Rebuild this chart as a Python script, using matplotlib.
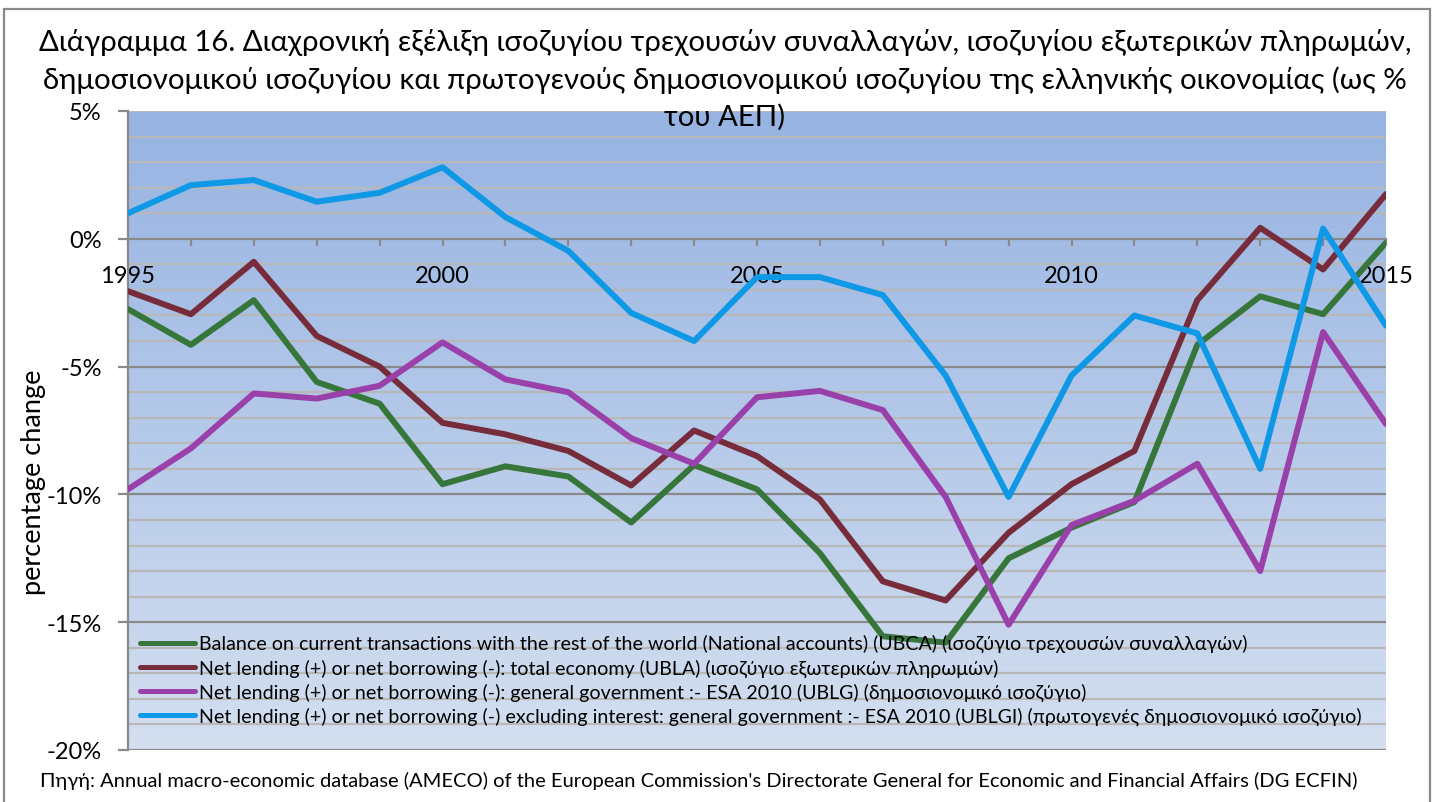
import numpy as np
import matplotlib
matplotlib.use("Agg")
import matplotlib.pyplot as plt
from matplotlib.colors import LinearSegmentedColormap
from matplotlib.patches import Rectangle

plt.rcParams['font.family'] = ['Lato', 'DejaVu Sans']

# Années
annees = list(range(1995, 2016))

# Séries (en % du PIB)
ubca = [-2.75, -4.15, -2.4, -5.6, -6.45, -9.6, -8.9, -9.3, -11.1, -8.85, -9.8,
        -12.3, -15.55, -15.8, -12.5, -11.3, -10.3, -4.15, -2.25, -2.95, -0.15]
ubla = [-2.05, -2.95, -0.9, -3.8, -5.0, -7.2, -7.65, -8.3, -9.65, -7.5, -8.5,
        -10.2, -13.4, -14.15, -11.5, -9.6, -8.3, -2.4, 0.43, -1.2, 1.75]
ublg = [-9.8, -8.2, -6.05, -6.25, -5.75, -4.05, -5.5, -6.0, -7.8, -8.8, -6.2,
        -5.95, -6.7, -10.1, -15.1, -11.2, -10.25, -8.8, -13.0, -3.65, -7.25]
ublgi = [1.0, 2.1, 2.3, 1.45, 1.8, 2.8, 0.85, -0.47, -2.9, -4.0, -1.5,
         -1.5, -2.2, -5.35, -10.1, -5.35, -3.0, -3.7, -9.0, 0.4, -3.4]

series = [ubca, ubla, ublg, ublgi]
noms = [
    "Balance on current transactions with the rest of the world (National accounts) (UBCA) (ισοζύγιο τρεχουσών συναλλαγών)",
    "Net lending (+) or net borrowing (-): total economy (UBLA) (ισοζύγιο εξωτερικών πληρωμών)",
    "Net lending (+) or net borrowing (-): general government :- ESA 2010 (UBLG) (δημοσιονομικό ισοζύγιο)",
    "Net lending (+) or net borrowing (-) excluding interest: general government :- ESA 2010 (UBLGI) (πρωτογενές δημοσιονομικό ισοζύγιο)",
]
couleurs = ['#37763a', '#772c3c', '#9a40aa', '#0f98e6']

y_ticks = [-20, -15, -10, -5, 0, 5]
x_labels = [1995, 2000, 2005, 2010, 2015]

lignes_titre = [
    "Διάγραμμα 16. Διαχρονική εξέλιξη ισοζυγίου τρεχουσών συναλλαγών, ισοζυγίου εξωτερικών πληρωμών,",
    "δημοσιονομικού ισοζυγίου και πρωτογενούς δημοσιονομικού ισοζυγίου της ελληνικής οικονομίας (ως %",
    "του ΑΕΠ)",
]
source = ("Πηγή: Annual macro-economic database (AMECO) of the European Commission's "
          "Directorate General for Economic and Financial Affairs (DG ECFIN)")

fig = plt.figure(figsize=(14.34, 8.03), dpi=100)
ax = fig.add_axes([128 / 1434, 1 - 751 / 803, (1386 - 128) / 1434, (751 - 112) / 803])

# Fond en dégradé
cmap = LinearSegmentedColormap.from_list('fond', ['#d4dff0', '#96b3e2'])
grad = np.linspace(0, 1, 256).reshape(-1, 1)
ax.imshow(grad, extent=[0, 1, 0, 1], transform=ax.transAxes, aspect='auto',
          cmap=cmap, origin='lower', zorder=0)

# Grille
for v in range(-20, 6):
    if v % 5 == 0 and v not in (0, 5):
        ax.axhline(v, color='#8a8a8a', lw=1.6, zorder=1)
    elif v != 0:
        ax.axhline(v, color='#b8b8b8', lw=1.6, zorder=1)

for s, c, n in zip(series, couleurs, noms):
    ax.plot(annees, s, color=c, lw=4.3, label=n, zorder=3, solid_capstyle='round')

ax.set_xlim(1995, 2015)
ax.set_ylim(-20, 5)

ax.spines['top'].set_visible(False)
ax.spines['right'].set_visible(False)
ax.spines['left'].set_color('#8a8a8a')
ax.spines['left'].set_linewidth(1.6)
ax.spines['bottom'].set_position(('data', 0))
ax.spines['bottom'].set_color('#8a8a8a')
ax.spines['bottom'].set_linewidth(1.6)
ax.spines['bottom'].set_zorder(2)

ax.set_yticks(y_ticks)
ax.set_yticklabels([f"{v}%" for v in y_ticks])
ax.tick_params(axis='y', length=7, width=1.6, color='#8a8a8a', pad=12, labelsize=17)

ax.set_xticks(annees)
ax.set_xticklabels([str(a) if a in x_labels else '' for a in annees])
ax.tick_params(axis='x', length=5, width=1.6, color='#8a8a8a', pad=14, labelsize=17)

fig.text(34 / 1434, 1 - 482 / 803, "percentage change", rotation=90,
         ha='center', va='center', fontsize=19.5)

leg = ax.legend(loc='upper left', bbox_to_anchor=(0.0095, 0.181), frameon=False,
                fontsize=14.1, handlelength=2.8, handletextpad=0.2,
                labelspacing=0.3, borderpad=0, borderaxespad=0)
for l in leg.get_lines():
    l.set_linewidth(3.6)

for yc, ligne in zip([42, 80, 117], lignes_titre):
    fig.text(725 / 1434, 1 - yc / 803, ligne, ha='center', va='center',
             fontsize=21.2, zorder=5)
fig.text(40 / 1434, 1 - 781 / 803, source, ha='left', va='center', fontsize=14.5)

fig.patches.append(Rectangle((4 / 1434, -0.01), 1426 / 1434, 1 - 10 / 803 + 0.01,
                             transform=fig.transFigure, fill=False,
                             edgecolor='#8a8a8a', lw=1.6))

fig.savefig('out.png', dpi=100)
